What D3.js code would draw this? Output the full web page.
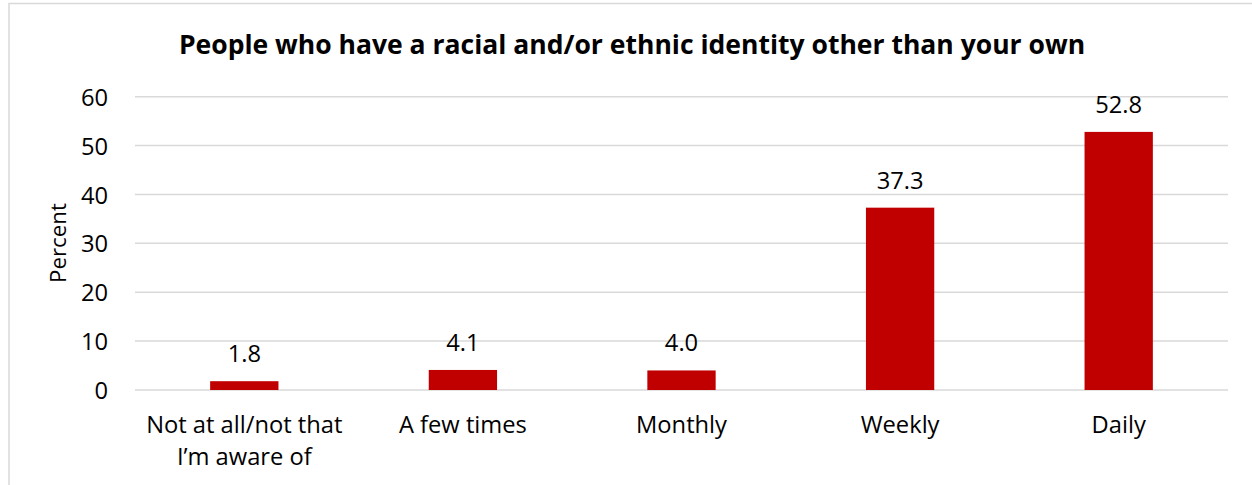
<!DOCTYPE html>
<html><head><meta charset="utf-8">
<script src="https://cdn.jsdelivr.net/npm/d3@7"></script>
<style>
body{margin:0;background:#fff;}
svg text{font-family:"Open Sans", Lato, sans-serif;fill:#000;}
</style></head>
<body>
<svg id="c" width="1252" height="485"></svg>
<script>
const categories = [["Not at all/not that","I\u2019m aware of"],["A few times"],["Monthly"],["Weekly"],["Daily"]];
const values = [1.8, 4.1, 4.0, 37.3, 52.8];
const valueLabels = ["1.8","4.1","4.0","37.3","52.8"];
const yTicks = [0,10,20,30,40,50,60];
const title = "People who have a racial and/or ethnic identity other than your own";
const yTitle = "Percent";

(function(){
const svg = d3.select("#c");
const FONT = '"Open Sans", Lato, sans-serif';
function fit(text, weight, target){
  const t = svg.append("text").attr("font-size",20).attr("font-weight",weight).attr("font-family",FONT).text(text);
  const w = t.node().getComputedTextLength(); t.remove();
  return 20*target/w;
}
const labelSize = fit("A few times","normal",128);
const titleSize = fit(title,"bold",907);
const ySize = fit(yTitle,"normal",80);

svg.append("rect").attr("x",9).attr("y",3.5).attr("width",1260).attr("height",500)
  .attr("fill","none").attr("stroke","#d9d9d9").attr("stroke-width",1.5);

const pLeft=135, pRight=1228, pTop=96.7, pBottom=390;
const x = d3.scaleBand().domain(d3.range(values.length)).range([pLeft,pRight]).paddingInner(0.6875).paddingOuter(0.34375);
const y = d3.scaleLinear().domain([0,60]).range([pBottom,pTop]);

svg.append("g").selectAll("line").data(yTicks).join("line")
  .attr("x1",pLeft).attr("x2",pRight)
  .attr("y1",d=>y(d)).attr("y2",d=>y(d))
  .attr("stroke","#d9d9d9").attr("stroke-width",1.5);

const yAxis = d3.axisLeft(y).tickValues(yTicks).tickSize(0).tickPadding(0);
const ga = svg.append("g").attr("transform","translate(108,0)").call(yAxis);
ga.select(".domain").remove();
ga.selectAll("text").attr("font-size",labelSize).attr("fill","#000").attr("font-family",FONT).attr("dy","0.36em");

svg.append("g").selectAll("rect").data(values).join("rect")
  .attr("x",(d,i)=>x(i)).attr("width",x.bandwidth())
  .attr("y",d=>y(d)).attr("height",d=>pBottom-y(d))
  .attr("fill","#c00000");

svg.append("g").selectAll("text").data(values).join("text")
  .attr("x",(d,i)=>x(i)+x.bandwidth()/2).attr("y",d=>y(d)-19)
  .attr("text-anchor","middle").attr("font-size",labelSize)
  .text((d,i)=>valueLabels[i]);

const cg = svg.append("g").selectAll("text").data(categories).join("text")
  .attr("x",(d,i)=>x(i)+x.bandwidth()/2).attr("y",433)
  .attr("text-anchor","middle").attr("font-size",labelSize);
cg.each(function(lines){
  const t=d3.select(this);
  lines.forEach((l,j)=>t.append("tspan").attr("x",t.attr("x")).attr("y",433+j*32).text(l));
});

svg.append("text").attr("transform","translate(66,243) rotate(-90)")
  .attr("text-anchor","middle").attr("font-size",ySize).text(yTitle);

svg.append("text").attr("x",632).attr("y",54).attr("text-anchor","middle")
  .attr("font-size",titleSize).attr("font-weight","bold").text(title);
})();
</script>
</body></html>
